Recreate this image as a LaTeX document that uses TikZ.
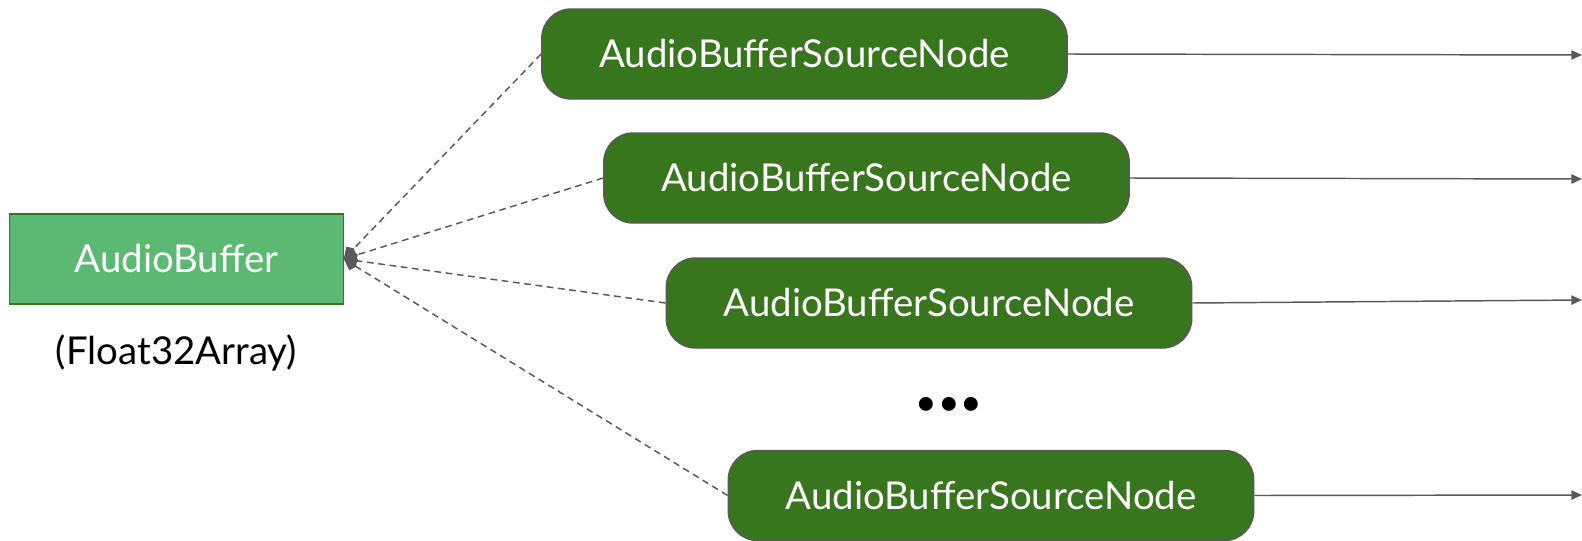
\documentclass[tikz,border=0pt]{standalone}
\usepackage{fontspec}
\setmainfont{Lato}
\usetikzlibrary{arrows.meta,positioning}
\definecolor{srcgreen}{HTML}{38761D}
\definecolor{bufgreen}{HTML}{5CB973}
\definecolor{linegray}{HTML}{595959}
\tikzset{src/.style={rectangle, rounded corners=22pt, draw=linegray, line width=1.1pt, fill=srcgreen, minimum width=394pt, minimum height=67.5pt, text=white, font=\fontsize{28.8}{32}\selectfont},
  buf/.style={rectangle, draw=srcgreen, line width=0.9pt, fill=bufgreen, minimum width=250pt, minimum height=67.5pt, text=white, font=\fontsize{28.8}{32}\selectfont},
  uses/.style={dashed, dash pattern=on 5pt off 3.5pt, line width=1.1pt, color=linegray, -{Kite[length=11pt,width=10pt,inset=3pt]}},
  outlink/.style={line width=1.1pt, color=linegray, -{Triangle[length=8pt,width=7pt]}}}
\begin{document}
\begin{tikzpicture}[x=0.75pt, y=-0.75pt]
    \useasboundingbox (0,0) rectangle (1582,540);
    \node[buf] (B) at (176.5,259) {AudioBuffer};
    \node[below=19pt of B, font=\fontsize{28.8}{32}\selectfont] (F) {(Float32Array)};
    \node[src] (S1) at (804.5,54) {AudioBufferSourceNode};
    \node[src] (S2) at (866.5,178) {AudioBufferSourceNode};
    \node[src] (S3) at (929,303) {AudioBufferSourceNode};
    \node[src] (S4) at (991,495.5) {AudioBufferSourceNode};
    \node[font=\fontsize{28}{32}\selectfont] (D) at (949,406) {\textbullet\kern0.5pt\textbullet\kern0.5pt\textbullet};
    \coordinate (E1) at (1582,55);
    \coordinate (E2) at (1582,179);
    \coordinate (E3) at (1582,300);
    \coordinate (E4) at (1582,495);
    \path[uses] (S1.west) edge (B.east);
    \path[uses] (S2.west) edge (B.east);
    \path[uses] (S3.west) edge (B.east);
    \path[uses] (S4.west) edge (B.east);
    \path[outlink] (S1.east) edge (E1);
    \path[outlink] (S2.east) edge (E2);
    \path[outlink] (S3.east) edge (E3);
    \path[outlink] (S4.east) edge (E4);
\end{tikzpicture}
\end{document}
